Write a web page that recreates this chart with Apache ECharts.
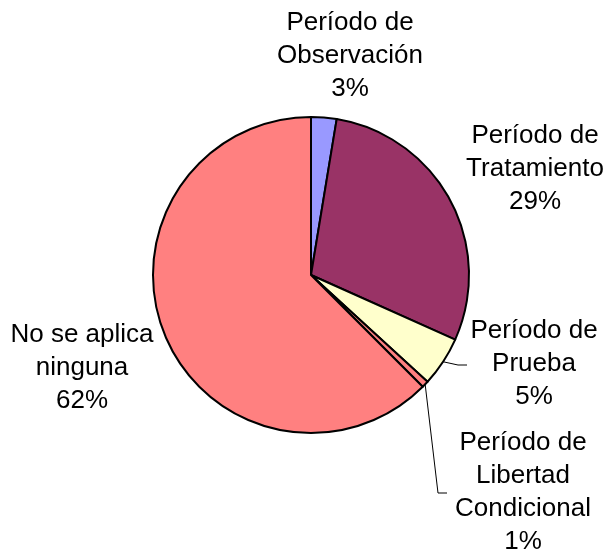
<!DOCTYPE html>
<html>
<head>
<meta charset="utf-8">
<script src="https://cdn.jsdelivr.net/npm/echarts@6/dist/echarts.min.js"></script>
<style>
  html, body { margin: 0; padding: 0; background: #fff; }
  #chart { width: 608px; height: 557px; }
</style>
</head>
<body>
<div id="chart"></div>
<script>
  // categories and shares
  const categories = [
    'Período de\nObservación',
    'Período de\nTratamiento',
    'Período de\nPrueba',
    'Período de\nLibertad\nCondicional',
    'No se aplica\nninguna'
  ]
  const values = [2.6, 29.1, 5.1, 0.7, 62.5]
  const colors = ['#9999FF', '#993366', '#FFFFCC', '#FF8080', '#FF8080']
  // where each label sits (centre of the text block)
  const labelPos = [[350, 56], [535, 169], [534, 364], [523, 492], [82, 368]]
  // leader lines: elbow and end x, relative to the label centre (null = no line)
  const guide = [null, null, [-76, -67], [-85, -76], null]

  const chart = echarts.init(document.getElementById('chart'))
  const options = {
    animation: false,
    series: [
      {
        type: 'pie',
        center: [311, 275],
        radius: 158,
        startAngle: 90,
        clockwise: true,
        percentPrecision: 0,
        itemStyle: {
          borderColor: '#000',
          borderWidth: 2
        },
        label: {
          formatter: '{b}\n{d}%',
          color: '#000',
          fontFamily: '"Liberation Sans", Arial, sans-serif',
          fontSize: 26,
          lineHeight: 33,
          width: 200,
          overflow: 'none',
          align: 'center'
        },
        labelLine: {
          show: true,
          lineStyle: { color: '#000', width: 1 }
        },
        labelLayout: function (params) {
          const p = labelPos[params.dataIndex]
          const g = guide[params.dataIndex]
          const out = {
            x: p[0],
            y: p[1],
            align: 'center',
            verticalAlign: 'middle'
          }
          if (g && params.labelLinePoints) {
            const start = params.labelLinePoints[0]
            out.labelLinePoints = [
              [start[0], start[1]],
              [p[0] + g[0], p[1] + 1],
              [p[0] + g[1], p[1] + 1]
            ]
          }
          return out
        },
        data: categories.map((name, i) => ({
          name: name,
          value: values[i],
          itemStyle: { color: colors[i] },
          labelLine: { show: guide[i] !== null }
        }))
      }
    ]
  }
  chart.setOption(options)
</script>
</body>
</html>
